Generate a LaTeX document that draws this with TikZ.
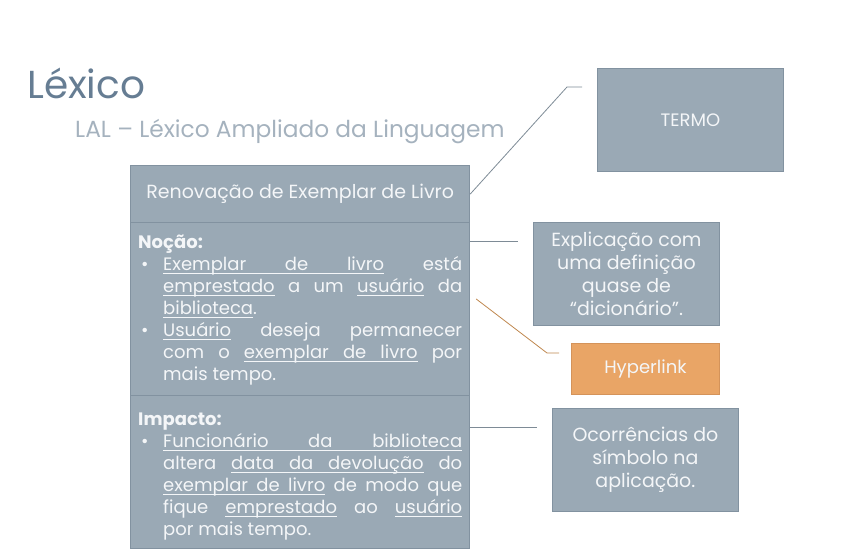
\documentclass[tikz,border=0pt]{standalone}
\usepackage{fontspec}
\setmainfont{Poppins}
\usetikzlibrary{positioning,calc}

\definecolor{boxfill}{HTML}{9AA9B5}
\definecolor{boxline}{HTML}{8292A0}
\definecolor{boxtext}{HTML}{F4F6F8}
\definecolor{titlecol}{HTML}{667D93}
\definecolor{subcol}{HTML}{A5B2BE}
\definecolor{leadcol}{HTML}{7E8B96}
\definecolor{linkfill}{HTML}{E9A566}
\definecolor{linkline}{HTML}{D4935A}
\definecolor{linklead}{HTML}{BF874E}

\newenvironment{bullets}{\begin{list}{\textbullet}{\setlength{\leftmargin}{25pt}\setlength{\labelwidth}{22pt}\setlength{\labelsep}{3pt}\setlength{\itemsep}{0pt}\setlength{\topsep}{0pt}\setlength{\parsep}{0pt}\setlength{\partopsep}{0pt}\renewcommand{\makelabel}[1]{\hspace{3pt}##1\hfil}}}{\end{list}}
\newlength{\ulwd}
\newcommand{\ulw}[1]{\leavevmode\settowidth{\ulwd}{#1}\rlap{\rule[-3.8pt]{\ulwd}{0.9pt}}#1}
\newcommand{\ulsp}{\leaders\hrule height -2.9pt depth 3.8pt\hskip\fontdimen2\font plus\fontdimen3\font minus\fontdimen4\font}

\tikzset{
  secbox/.style={draw=boxline, fill=boxfill, line width=1.2pt, minimum width=339, inner sep=0, anchor=north west},
  callbox/.style={draw=boxline, fill=boxfill, line width=0.8pt, minimum width=186, minimum height=103, anchor=north west},
  boxtxt/.style={text=boxtext, font=\fontsize{18}{22}\selectfont},
  bigtxt/.style={boxtxt, font=\fontsize{19}{23}\selectfont},
  sectxt/.style={boxtxt, text width=324, align=justify, inner sep=0, anchor=north west},
  lead/.style={draw=leadcol, line width=0.8pt},
}

\begin{document}
\begin{tikzpicture}[x=1pt, y=-1pt]
\useasboundingbox (0,0) rectangle (860,556);

\node[anchor=base west, text=titlecol, font=\fontsize{39}{42}\selectfont, inner sep=0] (title) at (27,99) {Léxico};
\node[anchor=base west, text=subcol, font=\fontsize{23.3}{26}\selectfont, inner sep=0] (subtitle) at (75,138) {LAL -- Léxico Ampliado da Linguagem};

\node[secbox, minimum height=57] (head) at (130,165) {};
\node[bigtxt] (headtxt) at (head.center) {Renovação de Exemplar de Livro};
\node[secbox, minimum height=173] (nocao) at (130,222) {};
\node[secbox, minimum height=153] (impacto) at (130,395) {};

\node[sectxt] (nocaotxt) at (138,234.5) {\textbf{Noção:}
\begin{bullets}
\item \ulw{Exemplar}\ulsp\ulw{de}\ulsp\ulw{livro} está \linebreak \ulw{emprestado} a um \ulw{usuário} da \linebreak \ulw{biblioteca}.
\item \ulw{Usuário} deseja permanecer \linebreak com o \ulw{exemplar}\ulsp\ulw{de}\ulsp\ulw{livro} por \linebreak mais tempo.
\end{bullets}};

\node[sectxt] (impactotxt) at (138,412.5) {\textbf{Impacto:}
\begin{bullets}
\item \ulw{Funcionário}\ulsp\ulw{da}\ulsp\ulw{biblioteca} \linebreak altera \ulw{data}\ulsp\ulw{da}\ulsp\ulw{devolução} do \linebreak \ulw{exemplar}\ulsp\ulw{de}\ulsp\ulw{livro} de modo que \linebreak fique \ulw{emprestado} ao \ulw{usuário} \linebreak por mais tempo.
\end{bullets}};

\node[callbox] (termo) at (597,68) {};
\node[boxtxt] at (termo.center) {TERMO};
\node[callbox] (expl) at (533,222) {};
\node[bigtxt, align=center] at (expl.center) {Explicação com\\uma definição\\quase de\\``dicionário''.};
\node[callbox, draw=linkline, fill=linkfill, minimum width=148, minimum height=51] (link) at (571,343) {};
\node[boxtxt] at (link.center) {Hyperlink};
\node[callbox] (ocorr) at (552,408) {};
\node[bigtxt, align=center] at (ocorr.center) {Ocorrências do\\símbolo na\\aplicação.};

\coordinate (termobend) at ($(termo.north west)+(-30,19)$);
\coordinate (termoend) at ($(termo.north west)+(-15,19)$);
\coordinate (explstart) at ($(nocao.north east)+(0,19)$);
\coordinate (explend) at ($(expl.north west)+(-15,19)$);
\coordinate (linkstart) at ($(nocao.north east)+(6,77)$);
\coordinate (linkbend) at ($(link.north west)+(-24,10)$);
\coordinate (linkend) at ($(link.north west)+(-12,10)$);
\coordinate (ocorrstart) at ($(impacto.north east)+(0,32)$);
\coordinate (ocorrend) at ($(ocorr.north west)+(-15,19)$);

\draw[lead] (head.east) -- (termobend) -- (termoend);
\draw[lead] (explstart) -- (explend);
\draw[lead, draw=linklead] (linkstart) -- (linkbend) -- (linkend);
\draw[lead] (ocorrstart) -- (ocorrend);
\end{tikzpicture}
\end{document}
